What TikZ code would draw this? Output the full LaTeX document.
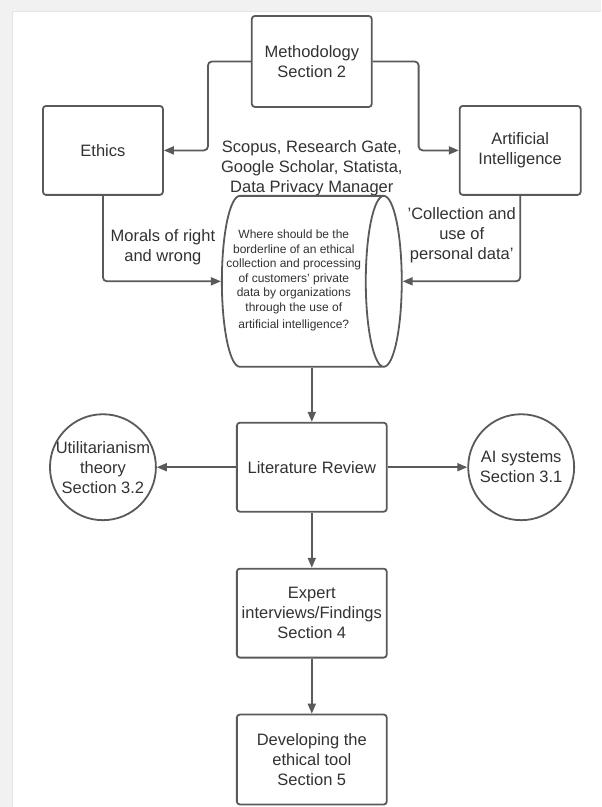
\documentclass[tikz,border=0pt]{standalone}
\usepackage{fontspec}
\setmainfont{Liberation Sans}
\usetikzlibrary{arrows.meta,calc,positioning,shapes.geometric}
\definecolor{flowline}{RGB}{90,90,90}
\definecolor{flowtext}{RGB}{50,50,50}
\definecolor{pageedge}{RGB}{241,241,241}
\definecolor{pagerule}{RGB}{228,228,228}

\begin{document}
\begin{tikzpicture}[x=1pt,y=-1pt,
  every node/.style={text=flowtext,font=\fontsize{16.5}{20}\selectfont,align=center},
  box/.style={draw=flowline,line width=1.8pt,rounded corners=3pt,minimum width=120pt,minimum height=89pt,inner sep=2pt},
  widebox/.style={box,minimum width=150pt},
  ring/.style={draw=flowline,line width=1.8pt,circle,minimum size=106pt,inner sep=0pt},
  link/.style={draw=flowline,line width=1.8pt,rounded corners=4pt,-{Triangle[length=10pt,width=8pt]}}]
  % page edge
  \fill[pageedge] (0,0) rectangle (601,807);
  \fill[white] (13,12) rectangle (601,807);
  \draw[pagerule,line width=1pt] (12.5,807) -- (12.5,11.5) -- (601,11.5);
  \useasboundingbox (0,0) rectangle (601,807);
  % top row
  \node[box,minimum height=91pt] (meth) at (312,61.5) {Methodology\\Section 2};
  \node[box] (ethics) at (103,150.5) {Ethics};
  \node[box,minimum width=121pt] (ai) at (520.5,150.5) {Artificial\\Intelligence};
  \node (sources) at (312,168) {Scopus, Research Gate,\\Google Scholar, Statista,\\Data Privacy Manager};
  % research question
  \node[cylinder,draw=flowline,line width=1.8pt,aspect=0.36,minimum height=180pt,minimum width=171pt,
        anchor=shape center,inner sep=0pt] (q) at (312,281.5) {\rule{0pt}{100pt}};
  \node[font=\fontsize{12}{14.5}\selectfont] (qtext) at (294,281)
    {Where should be the\\borderline of an ethical\\collection and processing\\of customers' private\\data by organizations\\through the use of\\[3pt]artificial intelligence?};
  \node (morals) at (163,247) {Morals of right\\and wrong};
  \node (personal) at (462,235) {'Collection and\\use of\\personal data'};
  % lower part
  \node[widebox] (lit) at (312,467.5) {Literature Review};
  \node[ring,label={[font=\fontsize{16.5}{20}\selectfont,align=center,text=flowtext]center:Utilitarianism\\theory\\Section 3.2}] (util) at (103,467.5) {};
  \node[ring] (aisys) at (521.5,467.5) {AI systems\\Section 3.1};
  \node[widebox] (expert) at (312,613.5) {Expert\\interviews/Findings\\Section 4};
  \node[widebox,minimum height=90pt] (tool) at (312,760) {Developing the\\ethical tool\\Section 5};
  % connectors
  \draw[link] (meth.west) -- ++(-43,0) |- (ethics.east);
  \draw[link] (meth.east) -- ++(46,0) |- (ai.west);
  \draw[link] (ethics.south) |- (q.west);
  \draw[link] (ai.south) |- (q.east);
  \draw[link] (q.south -| lit.north) -- (lit.north);
  \draw[link] (lit.west) -- (util.east);
  \draw[link] (lit.east) -- (aisys.west);
  \draw[link] (lit.south) -- (expert.north);
  \draw[link] (expert.south) -- (tool.north);
\end{tikzpicture}
\end{document}
